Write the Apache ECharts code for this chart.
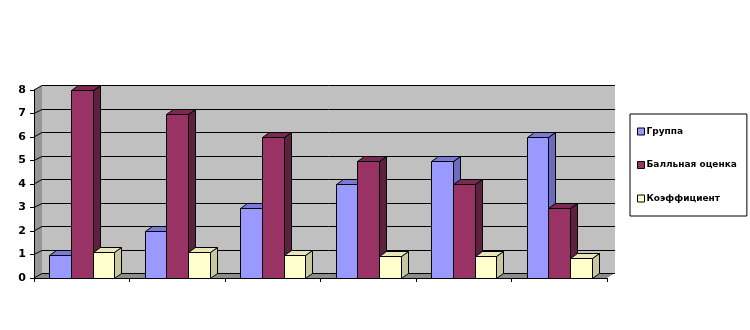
<!DOCTYPE html>
<html>
<head>
<meta charset="utf-8">
<script src="https://cdn.jsdelivr.net/npm/echarts@6/dist/echarts.min.js"></script>
<style>html,body{margin:0;padding:0;background:#fff;}#c{width:750px;height:330px;}</style>
</head>
<body>
<div id="c"></div>
<script>
var categories = ['1', '2', '3', '4', '5', '6'];
var gruppa = [1, 2, 3, 4, 5, 6];
var ballnaya = [8, 7, 6, 5, 4, 3];
var koeff = [1.1, 1.12, 0.97, 0.95, 0.94, 0.83];
var yTicks = [0, 1, 2, 3, 4, 5, 6, 7, 8];
var seriesNames = ['Группа', 'Балльная оценка', 'Коэффициент'];

var faceColors = [
  { front: '#9999FF', top: '#7A7AD6', side: '#6B6BBF' },
  { front: '#993366', top: '#7A2950', side: '#5E2040' },
  { front: '#FFFFCC', top: '#E6E6B8', side: '#C8C8A0' }
];

var WDX = 8, WDY = -5;   // wall depth
var BDX = 7, BDY = -5;   // bar depth

function r(v) { return Math.round(v) + 0.5; }

function wallsRender(params, api) {
  var cs = params.coordSys;
  var x0 = cs.x, x1 = cs.x + cs.width;
  var yTop = cs.y, yBot = cs.y + cs.height;
  var children = [];
  children.push({ type: 'rect', shape: { x: x0 + WDX, y: yTop + WDY, width: x1 - x0, height: yBot - yTop }, style: { fill: '#C0C0C0' } });
  children.push({ type: 'polygon', shape: { points: [[x0, yTop], [x0 + WDX, yTop + WDY], [x0 + WDX, yBot + WDY], [x0, yBot]] }, style: { fill: '#969696' } });
  children.push({ type: 'polygon', shape: { points: [[x0, yBot], [x0 + WDX, yBot + WDY], [x1 + WDX, yBot + WDY], [x1, yBot]] }, style: { fill: '#8C8C8C' } });
  for (var i = 0; i < yTicks.length; i++) {
    var y = api.coord([0, yTicks[i]])[1];
    var yy = r(y + WDY);
    children.push({ type: 'line', shape: { x1: x0 + WDX, y1: yy, x2: x1 + WDX, y2: yy }, style: { stroke: '#000', lineWidth: 1 } });
    children.push({ type: 'line', shape: { x1: x0, y1: y, x2: x0 + WDX, y2: yy }, style: { stroke: '#000', lineWidth: 1 } });
  }
  return { type: 'group', children: children };
}

function barRender(sIdx) {
  return function (params, api) {
    var cat = api.value(0), v = api.value(1);
    var c = api.coord([cat, v]);
    var b = api.coord([cat, 0]);
    var band = api.size([1, 0])[0];
    var bw = band * 0.2267;
    var x = r(c[0] - 1.5 * bw + sIdx * bw);
    var xr = r(c[0] - 1.5 * bw + (sIdx + 1) * bw);
    var top = r(c[1]);
    var bot = r(b[1]);
    var col = faceColors[sIdx];
    var st = { stroke: '#000', lineWidth: 1 };
    return {
      type: 'group',
      children: [
        { type: 'polygon', shape: { points: [[xr, top], [xr + BDX, top + BDY], [xr + BDX, bot + BDY], [xr, bot]] }, style: Object.assign({ fill: col.side }, st) },
        { type: 'polygon', shape: { points: [[x, top], [x + BDX, top + BDY], [xr + BDX, top + BDY], [xr, top]] }, style: Object.assign({ fill: col.top }, st) },
        { type: 'rect', shape: { x: x, y: top, width: xr - x, height: bot - top }, style: Object.assign({ fill: col.front }, st) }
      ]
    };
  };
}

function toData(arr) { return arr.map(function (v, i) { return [i, v]; }); }

var chart = echarts.init(document.getElementById('c'), null, { renderer: 'canvas' });
chart.setOption({
  backgroundColor: '#fff',
  animation: false,
  grid: { left: 34, right: 143, top: 90, bottom: 52 },
  legend: {
    orient: 'vertical',
    left: 630, top: 114,
    data: seriesNames,
    icon: 'rect',
    itemWidth: 7, itemHeight: 7,
    itemGap: 22.5,
    padding: [12, 10, 12, 7],
    backgroundColor: '#fff',
    borderColor: '#000',
    borderWidth: 1,
    borderRadius: 0,
    itemStyle: { borderColor: '#000', borderWidth: 1 },
    textStyle: { fontFamily: 'DejaVu Sans', fontSize: 9, fontWeight: 'bold', color: '#000', padding: [0, 0, 0, -3], lineHeight: 11 }
  },
  xAxis: {
    type: 'category',
    data: categories,
    z: 5,
    axisLine: { show: true, lineStyle: { color: '#000', width: 1 } },
    axisTick: { show: true, length: 4, lineStyle: { color: '#000' } },
    axisLabel: { show: false },
    splitLine: { show: false }
  },
  yAxis: {
    type: 'value',
    min: 0, max: 8, interval: 1,
    z: 5,
    axisLine: { show: true, lineStyle: { color: '#000', width: 1 } },
    axisTick: { show: true, length: 4, lineStyle: { color: '#000' } },
    axisLabel: { color: '#000', fontFamily: 'DejaVu Sans', fontSize: 11, fontWeight: 'bold', margin: 8 },
    splitLine: { show: false }
  },
  series: [
    { type: 'custom', name: '_walls', renderItem: wallsRender, data: [[0, 0]], z: 1, silent: true },
    { type: 'custom', name: seriesNames[0], renderItem: barRender(0), data: toData(gruppa), z: 2, itemStyle: { color: faceColors[0].front } },
    { type: 'custom', name: seriesNames[1], renderItem: barRender(1), data: toData(ballnaya), z: 3, itemStyle: { color: faceColors[1].front } },
    { type: 'custom', name: seriesNames[2], renderItem: barRender(2), data: toData(koeff), z: 4, itemStyle: { color: faceColors[2].front } }
  ]
});
</script>
</body>
</html>
